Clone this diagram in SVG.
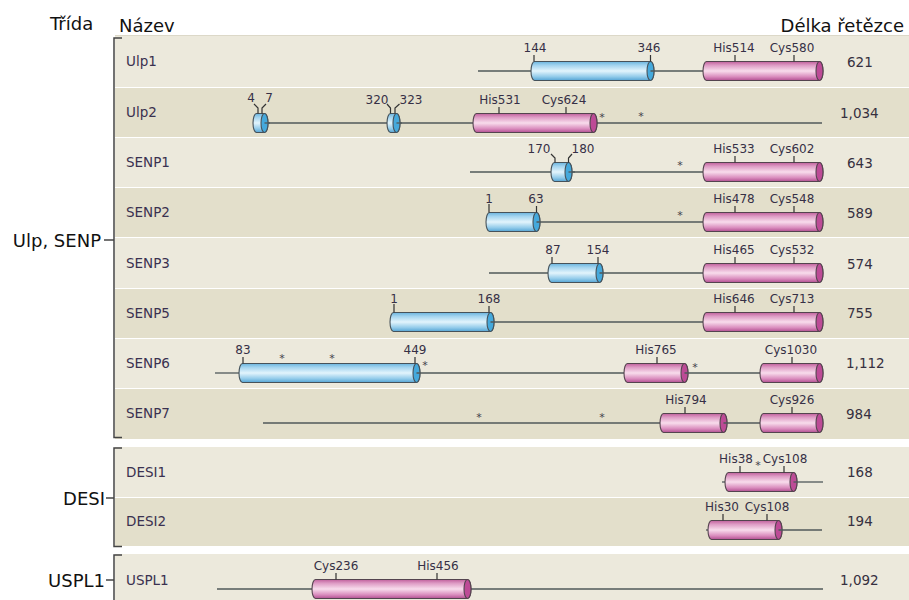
<svg xmlns="http://www.w3.org/2000/svg" width="909" height="600" viewBox="0 0 909 600">
<defs>
<linearGradient id="gb" x1="0" y1="0" x2="0" y2="1">
<stop offset="0" stop-color="#6ab4de"/><stop offset="0.2" stop-color="#a3d4ef"/><stop offset="0.5" stop-color="#e2f4fc"/><stop offset="0.8" stop-color="#92cbea"/><stop offset="1" stop-color="#55a4d4"/>
</linearGradient>
<linearGradient id="gp" x1="0" y1="0" x2="0" y2="1">
<stop offset="0" stop-color="#c0609c"/><stop offset="0.2" stop-color="#de9cc5"/><stop offset="0.5" stop-color="#f8dcec"/><stop offset="0.8" stop-color="#da8dbe"/><stop offset="1" stop-color="#b25092"/>
</linearGradient>
<style>
.hd{font-family:"DejaVu Sans",Verdana,sans-serif;font-size:18px;fill:#111}
.nm{font-family:"DejaVu Sans",Verdana,sans-serif;font-size:13.5px;fill:#3a3150}
.len{font-family:"DejaVu Sans",Verdana,sans-serif;font-size:13.5px;fill:#363040}
.lb{font-family:"DejaVu Sans",Verdana,sans-serif;font-size:12px;fill:#363046;text-anchor:middle}
.ast{font-family:"DejaVu Sans",Verdana,sans-serif;font-size:11px;fill:#443c4c;text-anchor:middle}
.l1{fill:#ece9dc}
.l2{fill:#e3dfcb}
.ln{stroke:#50585a;stroke-width:1.3;fill:none}
.tk{stroke:#333;stroke-width:1.2;fill:none}
.cb{fill:url(#gb);stroke:#46525a;stroke-width:1.1}
.cp{fill:url(#gp);stroke:#54444f;stroke-width:1.1}
.capb{fill:#45a9dc;stroke:#46525a;stroke-width:1.1}
.capp{fill:#bd4b96;stroke:#54444f;stroke-width:1.1}
.br{stroke:#444;stroke-width:1.5;fill:none}
</style>
</defs>
<rect width="909" height="600" fill="#fff"/>

<g id="bands">
<line x1="115" y1="35.5" x2="909" y2="35.5" stroke="#dcd8c8" stroke-width="1"/>
<rect class="l1" x="115" y="36" width="794" height="51"/>
<rect class="l2" x="115" y="88" width="794" height="49"/>
<rect class="l1" x="115" y="138" width="794" height="49"/>
<rect class="l2" x="115" y="188" width="794" height="49"/>
<rect class="l1" x="115" y="238" width="794" height="50"/>
<rect class="l2" x="115" y="289" width="794" height="49"/>
<rect class="l1" x="115" y="339" width="794" height="49"/>
<rect class="l2" x="115" y="389" width="794" height="50"/>
<rect class="l1" x="115" y="447" width="794" height="50"/>
<rect class="l2" x="115" y="498" width="794" height="48"/>
<rect class="l1" x="115" y="554" width="794" height="46"/>
</g>

<g id="headers">
<text class="hd" x="50" y="30">Třída</text>
<text class="hd" x="119" y="32">Název</text>
<text class="hd" x="904" y="32" text-anchor="end">Délka řetězce</text>
</g>

<g id="connectors">
<path class="br" d="M122,38 H114 V437.5 H122"/>
<path class="br" d="M122,448 H114 V546.5 H122"/>
<path class="br" d="M122,555 H114 V600"/>
<line class="br" x1="104" y1="240" x2="114" y2="240"/>
<line class="br" x1="106" y1="498" x2="114" y2="498"/>
<line class="br" x1="106" y1="580" x2="114" y2="580"/>
</g>

<g id="classes">
<text class="hd" x="101" y="247" text-anchor="end">Ulp, SENP</text>
<text class="hd" x="105" y="505" text-anchor="end">DESI</text>
<text class="hd" x="105" y="587" text-anchor="end">USPL1</text>
</g>

<g id="Ulp1">
<text class="nm" x="126" y="66">Ulp1</text>
<line class="ln" x1="478" y1="71" x2="532" y2="71"/>
<path class="cb" d="M534.5,61.5 H650.5 A3.5,9.5 0 0 1 650.5,80.5 H534.5 A3.5,9.5 0 0 1 534.5,61.5 Z"/>
<ellipse class="capb" cx="650.5" cy="71" rx="3.5" ry="9.5"/>
<line class="ln" x1="650.5" y1="71" x2="704" y2="71"/>
<path class="cp" d="M706.5,61.5 H819.5 A3.5,9.5 0 0 1 819.5,80.5 H706.5 A3.5,9.5 0 0 1 706.5,61.5 Z"/>
<ellipse class="capp" cx="819.5" cy="71" rx="3.5" ry="9.5"/>
<path class="tk" d="M534,55 V61.5 M650.5,55 V61.5 M735,55 V61.5 M794,55 V61.5"/>
<text class="lb" x="535" y="52">144</text>
<text class="lb" x="649" y="52">346</text>
<text class="lb" x="734" y="52">His514</text>
<text class="lb" x="792" y="52">Cys580</text>
<text class="len" x="847" y="67">621</text>
</g>

<g id="Ulp2">
<text class="nm" x="126" y="117">Ulp2</text>
<line class="ln" x1="253" y1="123" x2="822" y2="123"/>
<path class="cb" d="M256.5,113.5 H264.5 A3.5,9.5 0 0 1 264.5,132.5 H256.5 A3.5,9.5 0 0 1 256.5,113.5 Z"/>
<ellipse class="capb" cx="264.5" cy="123" rx="3.5" ry="9.5"/>
<path class="cb" d="M390.5,113.5 H396.5 A3.5,9.5 0 0 1 396.5,132.5 H390.5 A3.5,9.5 0 0 1 390.5,113.5 Z"/>
<ellipse class="capb" cx="396.5" cy="123" rx="3.5" ry="9.5"/>
<line class="ln" x1="264.5" y1="123" x2="270" y2="123"/>
<line class="ln" x1="396.5" y1="123" x2="402" y2="123"/>
<path class="cp" d="M476.5,113.5 H593.5 A3.5,9.5 0 0 1 593.5,132.5 H476.5 A3.5,9.5 0 0 1 476.5,113.5 Z"/>
<ellipse class="capp" cx="593.5" cy="123" rx="3.5" ry="9.5"/>
<path class="tk" d="M258,113.5 V108 L254,104 M262,113.5 V108 L266,104 M390.5,113.5 V108 L387,104 M395,113.5 V108 L399.5,104 M499,107 V113.5 M566,107 V113.5"/>
<text class="lb" x="251" y="102">4</text>
<text class="lb" x="269" y="102">7</text>
<text class="lb" x="377" y="104">320</text>
<text class="lb" x="411" y="104">323</text>
<text class="lb" x="500" y="104">His531</text>
<text class="lb" x="564" y="104">Cys624</text>
<text class="ast" x="602" y="121">*</text>
<text class="ast" x="641" y="120">*</text>
<text class="len" x="840" y="118">1,034</text>
</g>

<g id="SENP1">
<text class="nm" x="126" y="167">SENP1</text>
<line class="ln" x1="470" y1="172" x2="704" y2="172"/>
<path class="cb" d="M554.5,162.5 H568.5 A3.5,9.5 0 0 1 568.5,181.5 H554.5 A3.5,9.5 0 0 1 554.5,162.5 Z"/>
<ellipse class="capb" cx="568.5" cy="172" rx="3.5" ry="9.5"/>
<line class="ln" x1="568.5" y1="172" x2="575" y2="172"/>
<path class="cp" d="M706.5,162.5 H819.5 A3.5,9.5 0 0 1 819.5,181.5 H706.5 A3.5,9.5 0 0 1 706.5,162.5 Z"/>
<ellipse class="capp" cx="819.5" cy="172" rx="3.5" ry="9.5"/>
<path class="tk" d="M555,162.5 V158 L551,154 M568.5,162.5 V158 L572,154 M735,156 V162.5 M794,156 V162.5"/>
<text class="lb" x="539" y="153">170</text>
<text class="lb" x="583" y="153">180</text>
<text class="lb" x="734" y="153">His533</text>
<text class="lb" x="792" y="153">Cys602</text>
<text class="ast" x="680" y="169">*</text>
<text class="len" x="847" y="168">643</text>
</g>

<g id="SENP2">
<text class="nm" x="126" y="217">SENP2</text>
<path class="cb" d="M489.5,212.5 H536.5 A3.5,9.5 0 0 1 536.5,231.5 H489.5 A3.5,9.5 0 0 1 489.5,212.5 Z"/>
<ellipse class="capb" cx="536.5" cy="222" rx="3.5" ry="9.5"/>
<line class="ln" x1="536.5" y1="222" x2="704" y2="222"/>
<path class="cp" d="M706.5,212.5 H819.5 A3.5,9.5 0 0 1 819.5,231.5 H706.5 A3.5,9.5 0 0 1 706.5,212.5 Z"/>
<ellipse class="capp" cx="819.5" cy="222" rx="3.5" ry="9.5"/>
<path class="tk" d="M489,204 V212.5 M536.5,206 V212.5 M735,206 V212.5 M794,206 V212.5"/>
<text class="lb" x="489" y="203">1</text>
<text class="lb" x="536" y="203">63</text>
<text class="lb" x="734" y="203">His478</text>
<text class="lb" x="792" y="203">Cys548</text>
<text class="ast" x="680" y="219">*</text>
<text class="len" x="847" y="218">589</text>
</g>

<g id="SENP3">
<text class="nm" x="126" y="268">SENP3</text>
<line class="ln" x1="489" y1="273" x2="549" y2="273"/>
<path class="cb" d="M551.5,263.5 H599.5 A3.5,9.5 0 0 1 599.5,282.5 H551.5 A3.5,9.5 0 0 1 551.5,263.5 Z"/>
<ellipse class="capb" cx="599.5" cy="273" rx="3.5" ry="9.5"/>
<line class="ln" x1="599.5" y1="273" x2="704" y2="273"/>
<path class="cp" d="M706.5,263.5 H819.5 A3.5,9.5 0 0 1 819.5,282.5 H706.5 A3.5,9.5 0 0 1 706.5,263.5 Z"/>
<ellipse class="capp" cx="819.5" cy="273" rx="3.5" ry="9.5"/>
<path class="tk" d="M552,257 V263.5 M598,257 V263.5 M735,257 V263.5 M794,257 V263.5"/>
<text class="lb" x="553" y="254">87</text>
<text class="lb" x="598" y="254">154</text>
<text class="lb" x="734" y="254">His465</text>
<text class="lb" x="792" y="254">Cys532</text>
<text class="len" x="847" y="269">574</text>
</g>

<g id="SENP5">
<text class="nm" x="126" y="318">SENP5</text>
<path class="cb" d="M393.5,312.5 H490.5 A3.5,9.5 0 0 1 490.5,331.5 H393.5 A3.5,9.5 0 0 1 393.5,312.5 Z"/>
<ellipse class="capb" cx="490.5" cy="322" rx="3.5" ry="9.5"/>
<line class="ln" x1="490.5" y1="322" x2="704" y2="322"/>
<path class="cp" d="M706.5,312.5 H819.5 A3.5,9.5 0 0 1 819.5,331.5 H706.5 A3.5,9.5 0 0 1 706.5,312.5 Z"/>
<ellipse class="capp" cx="819.5" cy="322" rx="3.5" ry="9.5"/>
<path class="tk" d="M394,304 V312.5 M489,306 V312.5 M735,306 V312.5 M794,306 V312.5"/>
<text class="lb" x="394" y="303">1</text>
<text class="lb" x="489" y="303">168</text>
<text class="lb" x="734" y="303">His646</text>
<text class="lb" x="792" y="303">Cys713</text>
<text class="len" x="847" y="318">755</text>
</g>

<g id="SENP6">
<text class="nm" x="126" y="368">SENP6</text>
<line class="ln" x1="215" y1="373" x2="240" y2="373"/>
<path class="cb" d="M242.5,363.5 H416.5 A3.5,9.5 0 0 1 416.5,382.5 H242.5 A3.5,9.5 0 0 1 242.5,363.5 Z"/>
<ellipse class="capb" cx="416.5" cy="373" rx="3.5" ry="9.5"/>
<line class="ln" x1="416.5" y1="373" x2="625" y2="373"/>
<path class="cp" d="M627.5,363.5 H684.5 A3.5,9.5 0 0 1 684.5,382.5 H627.5 A3.5,9.5 0 0 1 627.5,363.5 Z"/>
<ellipse class="capp" cx="684.5" cy="373" rx="3.5" ry="9.5"/>
<line class="ln" x1="684.5" y1="373" x2="761" y2="373"/>
<path class="cp" d="M763.5,363.5 H819.5 A3.5,9.5 0 0 1 819.5,382.5 H763.5 A3.5,9.5 0 0 1 763.5,363.5 Z"/>
<ellipse class="capp" cx="819.5" cy="373" rx="3.5" ry="9.5"/>
<path class="tk" d="M243,357 V363.5 M415,357 V363.5 M657,357 V363.5 M792,357 V363.5"/>
<text class="lb" x="243" y="354">83</text>
<text class="lb" x="415" y="354">449</text>
<text class="lb" x="656" y="354">His765</text>
<text class="lb" x="791" y="354">Cys1030</text>
<text class="ast" x="282" y="362">*</text>
<text class="ast" x="332" y="362">*</text>
<text class="ast" x="425" y="369">*</text>
<text class="ast" x="695" y="371">*</text>
<text class="len" x="846" y="368">1,112</text>
</g>

<g id="SENP7">
<text class="nm" x="126" y="418">SENP7</text>
<line class="ln" x1="263" y1="423" x2="661" y2="423"/>
<path class="cp" d="M663.5,413.5 H723.5 A3.5,9.5 0 0 1 723.5,432.5 H663.5 A3.5,9.5 0 0 1 663.5,413.5 Z"/>
<ellipse class="capp" cx="723.5" cy="423" rx="3.5" ry="9.5"/>
<line class="ln" x1="723.5" y1="423" x2="761" y2="423"/>
<path class="cp" d="M763.5,413.5 H819.5 A3.5,9.5 0 0 1 819.5,432.5 H763.5 A3.5,9.5 0 0 1 763.5,413.5 Z"/>
<ellipse class="capp" cx="819.5" cy="423" rx="3.5" ry="9.5"/>
<path class="tk" d="M685,407 V413.5 M792,407 V413.5"/>
<text class="lb" x="686" y="404">His794</text>
<text class="lb" x="792" y="404">Cys926</text>
<text class="ast" x="479" y="421">*</text>
<text class="ast" x="602" y="421">*</text>
<text class="len" x="846" y="419">984</text>
</g>

<g id="DESI1">
<text class="nm" x="126" y="477">DESI1</text>
<line class="ln" x1="722" y1="482" x2="727" y2="482"/>
<path class="cp" d="M728.5,472.5 H793.5 A3.5,9.5 0 0 1 793.5,491.5 H728.5 A3.5,9.5 0 0 1 728.5,472.5 Z"/>
<ellipse class="capp" cx="793.5" cy="482" rx="3.5" ry="9.5"/>
<line class="ln" x1="793.5" y1="482" x2="823" y2="482"/>
<path class="tk" d="M740,466 V472.5 M784,466 V472.5"/>
<text class="lb" x="736" y="463">His38</text>
<text class="lb" x="785" y="463">Cys108</text>
<text class="ast" x="758" y="469">*</text>
<text class="len" x="847" y="477">168</text>
</g>

<g id="DESI2">
<text class="nm" x="126" y="526">DESI2</text>
<line class="ln" x1="706" y1="530" x2="710" y2="530"/>
<path class="cp" d="M711.5,520.5 H778.5 A3.5,9.5 0 0 1 778.5,539.5 H711.5 A3.5,9.5 0 0 1 711.5,520.5 Z"/>
<ellipse class="capp" cx="778.5" cy="530" rx="3.5" ry="9.5"/>
<line class="ln" x1="778.5" y1="530" x2="822" y2="530"/>
<path class="tk" d="M723,514 V520.5 M767,514 V520.5"/>
<text class="lb" x="722" y="511">His30</text>
<text class="lb" x="767" y="511">Cys108</text>
<text class="len" x="847" y="526">194</text>
</g>

<g id="USPL1">
<text class="nm" x="126" y="585">USPL1</text>
<line class="ln" x1="217" y1="589" x2="823" y2="589"/>
<path class="cp" d="M315.5,579.5 H467.5 A3.5,9.5 0 0 1 467.5,598.5 H315.5 A3.5,9.5 0 0 1 315.5,579.5 Z"/>
<ellipse class="capp" cx="467.5" cy="589" rx="3.5" ry="9.5"/>
<path class="tk" d="M336,573 V579.5 M437,573 V579.5"/>
<text class="lb" x="336" y="570">Cys236</text>
<text class="lb" x="438" y="570">His456</text>
<text class="len" x="840" y="585">1,092</text>
</g>
</svg>
